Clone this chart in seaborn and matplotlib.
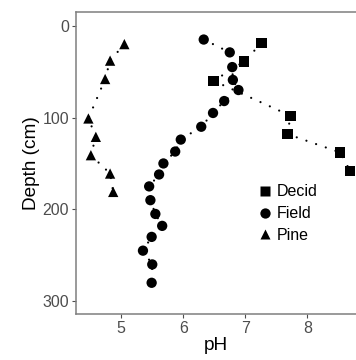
import matplotlib
matplotlib.use("Agg")
import matplotlib.pyplot as plt
import seaborn as sns
import pandas as pd

decid_ph = [7.26, 6.98, 6.49, 7.73, 7.68, 8.53, 8.69]
decid_depth = [19, 39, 60, 98, 118, 138, 158]

field_ph = [6.33, 6.75, 6.79, 6.80, 6.89, 6.66, 6.48, 6.29, 5.96, 5.87, 5.68,
            5.61, 5.45, 5.47, 5.55, 5.66, 5.49, 5.35, 5.50, 5.49]
field_depth = [15, 29, 45, 59, 70, 82, 95, 110, 124, 137, 150, 162, 175, 190,
               205, 218, 230, 245, 260, 280]

pine_ph = [5.05, 4.82, 4.74, 4.47, 4.59, 4.51, 4.82, 4.87]
pine_depth = [20, 38, 58, 101, 121, 141, 161, 181]

sites = ["Decid", "Field", "Pine"]

df = pd.concat([
    pd.DataFrame({"pH": decid_ph, "Depth": decid_depth, "site": "Decid"}),
    pd.DataFrame({"pH": field_ph, "Depth": field_depth, "site": "Field"}),
    pd.DataFrame({"pH": pine_ph, "Depth": pine_depth, "site": "Pine"}),
], ignore_index=True)

sns.set_style("white")
plt.rcParams["font.family"] = ["Liberation Sans", "DejaVu Sans"]

fig = plt.figure(figsize=(3.56, 3.6), dpi=100)
ax = fig.add_axes([76 / 356, 1 - 314 / 360, 1 - 76 / 356, (314 - 12) / 360])

for s in sites:
    sub = df[df.site == s]
    sns.lineplot(data=sub, x="pH", y="Depth", sort=False, estimator=None,
                 color="black", lw=1.6, linestyle=(0, (0.01, 4.6)),
                 dash_capstyle="round", ax=ax, legend=False)

sns.scatterplot(data=df, x="pH", y="Depth", style="site",
                markers={"Decid": "s", "Field": "o", "Pine": "^"},
                color="black", s=55, edgecolor="none", ax=ax)

ax.set_xlim(4.27, 8.786)
ax.set_ylim(314, -15)
ax.set_xticks([5, 6, 7, 8])
ax.set_yticks([0, 100, 200, 300])
ax.set_xlabel("pH", fontsize=13.7, color="black", labelpad=1)
ax.set_ylabel("Depth (cm)", fontsize=13.7, color="black", labelpad=2)
ax.tick_params(axis="both", labelsize=11.5, labelcolor="#4d4d4d", colors="#4d4d4d",
               length=3, width=0.8, left=True, bottom=True, pad=2)
for side in ["left", "bottom", "top"]:
    ax.spines[side].set_color("#7f7f7f")
    ax.spines[side].set_linewidth(1.1)
ax.spines["right"].set_visible(False)

leg = ax.legend(title=None, frameon=False, loc="upper left",
                bbox_to_anchor=(0.625, 0.45), fontsize=11.5,
                handletextpad=0.2, labelspacing=0.42, borderaxespad=0,
                markerscale=1.0, handlelength=1.0)
for t in leg.get_texts():
    t.set_color("black")

fig.savefig("out.png", dpi=100)
